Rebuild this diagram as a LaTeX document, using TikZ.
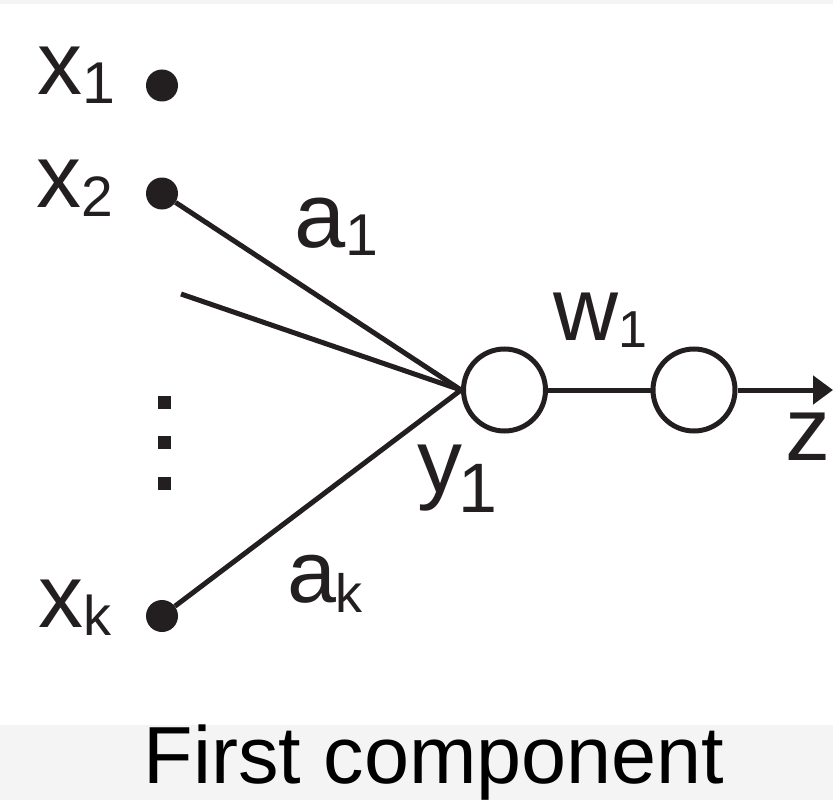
\documentclass[tikz,border=0pt]{standalone}
\usepackage{fontspec}
\setmainfont{Liberation Sans}
\usetikzlibrary{arrows.meta}
\definecolor{ink}{HTML}{231F20}
\definecolor{band}{HTML}{F4F4F4}

% letter with a lowered subscript: main size, letter, sub size, sub, drop, kern
\newcommand\symsub[6]{{\fontsize{#1}{#1}\selectfont #2}\kern#6pt\raisebox{-#5pt}{\fontsize{#3}{#3}\selectfont #4}}

\begin{document}
\begin{tikzpicture}[x=1pt,y=-1pt,
  wire/.style={draw=ink, line width=5pt},
  terminal/.style={circle, fill=ink, inner sep=0pt, minimum size=32pt},
  unit/.style={circle, draw=ink, line width=5pt, inner sep=0pt, minimum size=82pt},
  ellipsis/.style={rectangle, fill=ink, inner sep=0pt, minimum size=13pt},
  lbl/.style={anchor=base west, inner sep=0pt, text=ink},
]
\useasboundingbox (0,0) rectangle (833,800);
\fill[band] (0,0) rectangle (833,4);
\fill[band] (0,725) rectangle (833,800);

% input terminals
\node[terminal] (x1) at (162,85.5) {};
\node[terminal] (x2) at (162,193.5) {};
\node[terminal] (xk) at (162,616) {};

% vertical ellipsis
\node[ellipsis] (d1) at (164.5,402.5) {};
\node[ellipsis] (d2) at (164.5,442.5) {};
\node[ellipsis] (d3) at (164.5,483.5) {};

% hidden unit and output unit
\node[unit] (y1) at (504.5,390) {};
\node[unit] (n2) at (694,390) {};
\coordinate (mid) at (181,294);
\coordinate (zend) at (833,390);

% connections
\draw[wire] (x2) -- (y1.west);
\draw[wire] (mid) -- (y1.west);
\draw[wire] (xk) -- (y1.west);
\draw[wire] (y1) -- (n2);
\draw[wire, -{Triangle[length=20pt,width=28pt]}] (n2) -- (zend);

% labels
\node[lbl] (lx1) at (37.4,95) {\symsub{90}{x}{59}{1}{9}{0}};
\node[lbl] (lx2) at (36.4,207) {\symsub{90}{x}{57}{2}{9}{0}};
\node[lbl] (lxk) at (38.4,627) {\symsub{90}{x}{56}{k}{8}{0}};
\node[lbl] (la1) at (294.7,247) {\symsub{92}{a}{59}{1}{8}{-1}};
\node[lbl] (lak) at (286.8,602) {\symsub{88}{a}{54}{k}{10}{0}};
\node[lbl] (lw1) at (553,340) {\symsub{90}{w}{52}{1}{7}{0}};
\node[lbl] (ly1) at (417,492) {\symsub{90}{y}{70}{1}{20}{-4}};
\node[lbl] (lz) at (785,460) {\fontsize{90}{90}\selectfont z};

% caption
\node[anchor=base, inner sep=0pt] (cap) at (434,783) {\fontsize{81}{81}\selectfont First component};
\end{tikzpicture}
\end{document}
